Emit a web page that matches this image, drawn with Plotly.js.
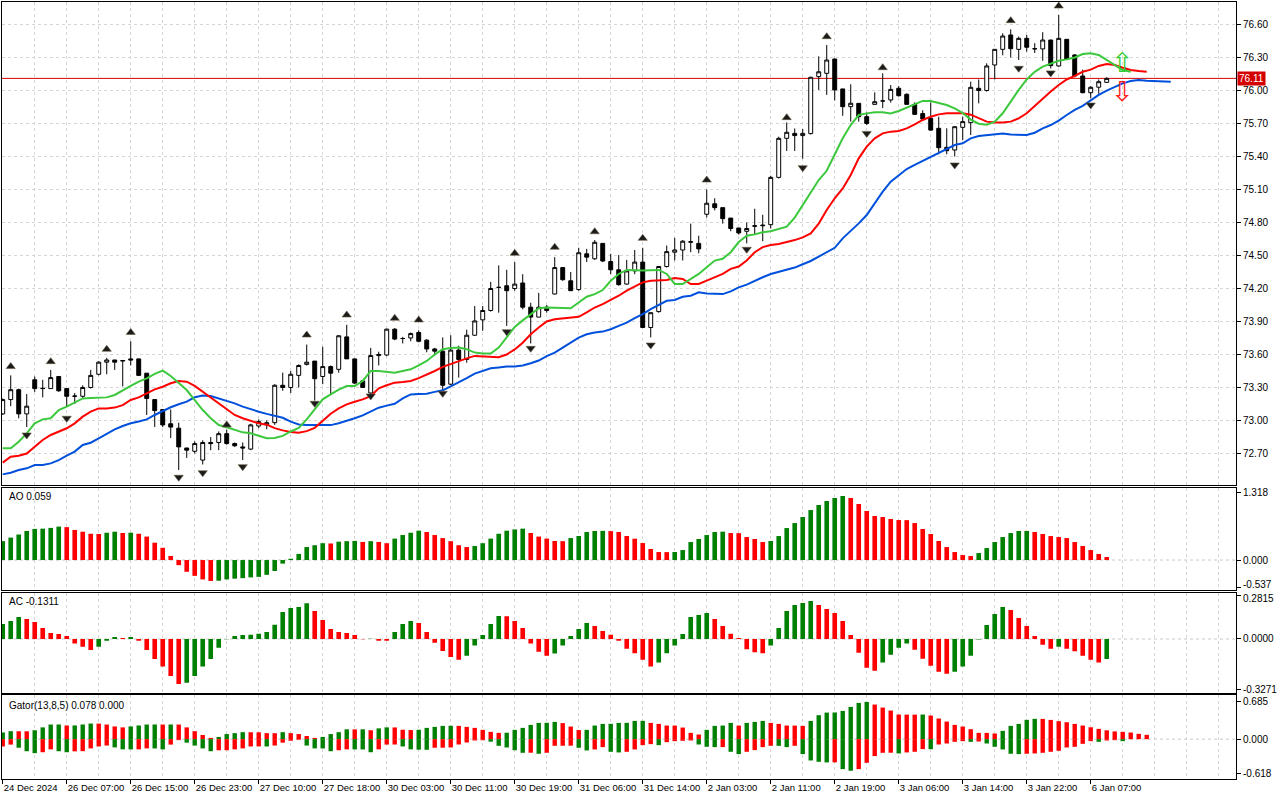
<!DOCTYPE html>
<html>
<head>
<meta charset="utf-8">
<script src="https://cdn.plot.ly/plotly-3.0.1.min.js"></script>
<style>
html,body{margin:0;padding:0;background:#ffffff;}
#chart{width:1280px;height:800px;}
</style>
</head>
<body>
<div id="chart"></div>
<script>
// ---------- hourly candles (index 0 = 24 Dec 2024) ----------
const openP = [
73.06,73.19,73.28,73.06,73.37,73.29,73.29,73.40,73.29,73.22,
73.22,73.30,73.42,73.53,73.55,73.54,73.56,73.56,73.43,73.19,
73.10,72.97,72.93,72.75,72.72,72.64,72.80,72.80,72.88,72.79,
72.76,72.74,72.95,72.96,72.98,73.32,73.30,73.41,73.51,73.54,
73.40,73.49,73.465,73.76,73.56,73.36,73.25,73.59,73.595,73.83,
73.745,73.75,73.80,73.73,73.65,73.63,73.33,73.64,73.555,73.775,
73.915,74.00,74.21,74.225,74.20,74.25,74.03,73.94,74.03,74.15,
74.39,74.27,74.19,74.515,74.47,74.61,74.445,74.37,74.24,74.36,
74.44,73.845,73.99,74.40,74.53,74.55,74.62,74.61,74.875,74.97,
74.935,74.84,74.75,74.72,74.765,74.77,74.78,75.21,75.565,75.61,
75.59,75.608,76.126,76.156,76.286,76.014,75.853,75.883,75.762,75.874,
75.905,75.914,76.02,75.965,75.874,75.79,75.747,75.656,75.483,75.459,
75.665,75.708,76.02,76.00,76.232,76.374,76.505,76.374,76.474,76.378,
76.378,76.459,76.223,76.465,76.323,76.132,75.98,76.03,76.074];
const highP = [
73.20,73.41,73.29,73.24,73.40,73.37,73.46,73.40,73.29,73.25,
73.32,73.46,73.54,73.57,73.55,73.55,73.72,73.56,73.43,73.19,
73.10,73.10,72.98,72.75,72.81,72.82,72.85,72.90,72.915,72.80,
72.80,72.97,73.01,73.00,73.33,73.435,73.45,73.51,73.69,73.54,
73.67,73.50,73.775,73.87,73.56,73.365,73.66,73.625,73.835,73.84,
73.76,73.80,73.82,73.74,73.66,73.755,73.775,73.68,73.825,74.04,
74.04,74.26,74.41,74.37,74.44,74.33,74.07,74.16,74.05,74.485,
74.39,74.35,74.57,74.56,74.64,74.61,74.515,74.505,74.46,74.55,
74.57,73.98,74.40,74.59,74.66,74.64,74.79,74.68,75.10,75.02,
74.935,74.84,74.75,74.80,74.925,74.87,75.225,75.58,75.71,75.655,
75.65,76.125,76.31,76.414,76.29,76.015,76.056,75.885,75.80,75.983,
76.156,76.05,76.04,75.974,75.892,75.82,75.892,75.762,75.656,75.671,
75.762,76.08,76.10,76.247,76.374,76.52,76.556,76.49,76.505,76.43,
76.53,76.46,76.687,76.465,76.33,76.19,76.04,76.10,76.12];
const lowP = [
73.05,73.13,73.02,72.94,73.26,73.21,73.29,73.26,73.13,73.15,
73.20,73.29,73.41,73.42,73.46,73.31,73.50,73.41,73.05,72.94,
72.94,72.84,72.55,72.66,72.70,72.60,72.73,72.73,72.78,72.76,
72.64,72.73,72.93,72.92,72.96,73.27,73.25,73.30,73.50,73.18,
73.33,73.24,73.435,73.56,73.33,73.30,73.22,73.50,73.585,73.73,
73.70,73.72,73.71,73.62,73.59,73.27,73.32,73.39,73.525,73.77,
73.815,73.99,73.98,73.86,74.18,74.01,73.70,73.94,73.98,74.145,
74.27,74.18,74.18,74.44,74.46,74.44,74.33,74.225,74.235,74.33,
73.84,73.755,73.98,74.39,74.455,74.455,74.53,74.52,74.845,74.91,
74.79,74.72,74.69,74.61,74.69,74.63,74.745,75.20,75.45,75.45,
75.38,75.60,76.005,75.96,75.91,75.77,75.717,75.717,75.686,75.868,
75.84,75.89,75.944,75.868,75.783,75.732,75.632,75.42,75.42,75.40,
75.55,75.595,75.883,75.99,76.10,76.32,76.30,76.277,76.353,76.34,
76.27,76.20,76.215,76.277,76.12,75.974,75.93,75.97,76.07];
const closeP = [
73.19,73.28,73.06,73.13,73.29,73.292,73.39,73.27,73.22,73.222,
73.30,73.41,73.53,73.55,73.53,73.545,73.55,73.41,73.20,73.09,
72.96,72.94,72.76,72.73,72.79,72.80,72.79,72.88,72.79,72.77,
72.75,72.96,72.99,72.98,73.32,73.30,73.42,73.50,73.53,73.38,
73.49,73.43,73.77,73.56,73.34,73.30,73.59,73.60,73.83,73.74,
73.745,73.79,73.72,73.65,73.63,73.32,73.64,73.555,73.775,73.905,
74.00,74.20,74.21,74.18,74.24,74.03,73.94,74.03,74.00,74.39,
74.28,74.18,74.525,74.485,74.62,74.45,74.37,74.235,74.36,74.44,
73.845,73.98,74.40,74.535,74.55,74.63,74.625,74.56,74.975,74.935,
74.835,74.745,74.705,74.745,74.77,74.775,75.21,75.565,75.62,75.59,
75.61,76.12,76.17,76.277,76.005,75.853,75.884,75.762,75.70,75.898,
75.905,76.01,75.953,75.874,75.783,75.74,75.64,75.48,75.453,75.671,
75.717,76.029,76.00,76.223,76.374,76.495,76.38,76.474,76.393,76.38,
76.459,76.226,76.474,76.283,76.132,75.98,76.029,76.08,76.11];

// ---------- Alligator lines (as drawn, incl. forward shift) ----------
const jawLine = [
72.51,72.525,72.55,72.565,72.595,72.595,72.61,72.64,72.68,72.717,
72.777,72.798,72.838,72.883,72.92,72.95,72.974,72.99,73.01,73.05,
73.086,73.12,73.147,73.171,73.211,73.226,73.223,73.2,73.18,73.156,
73.126,73.10,73.08,73.06,73.04,73.025,72.99,72.964,72.96,72.958,
72.958,72.958,72.975,72.994,73.02,73.046,73.08,73.116,73.135,73.152,
73.2,73.237,73.24,73.243,73.26,73.274,73.31,73.344,73.385,73.426,
73.45,73.474,73.482,73.49,73.49,73.50,73.52,73.545,73.585,73.616,
73.662,73.707,73.753,73.784,73.80,73.808,73.829,73.86,73.89,73.93,
73.966,74.012,74.052,74.088,74.095,74.125,74.134,74.165,74.155,74.149,
74.149,74.174,74.21,74.235,74.271,74.302,74.332,74.35,74.37,74.39,
74.42,74.45,74.49,74.53,74.57,74.656,74.72,74.792,74.868,74.974,
75.08,75.171,75.232,75.286,75.323,75.359,75.398,75.438,75.474,75.504,
75.52,75.565,75.586,75.595,75.60,75.61,75.60,75.595,75.595,75.616,
75.656,75.686,75.726,75.777,75.823,75.86,75.914,75.96,75.999,76.029,
76.065,76.086,76.095,76.089,76.086,76.08,76.08];
const teethLine = [
72.617,72.671,72.68,72.70,72.762,72.823,72.868,72.898,72.929,72.974,
73.035,73.08,73.11,73.11,73.117,73.14,73.186,73.21,73.247,73.283,
73.307,73.338,73.359,73.353,73.314,73.262,73.211,73.162,73.11,73.05,
73.02,73.0,72.974,72.962,72.93,72.91,72.895,72.888,72.903,72.933,
73.0,73.061,73.11,73.146,73.17,73.192,73.222,73.292,73.32,73.344,
73.35,73.359,73.385,73.414,73.45,73.487,73.515,73.541,73.565,73.587,
73.582,73.578,73.575,73.60,73.646,73.707,73.784,73.845,73.90,73.921,
73.93,73.936,73.942,73.982,74.027,74.058,74.095,74.134,74.18,74.216,
74.256,74.271,74.271,74.277,74.296,74.287,74.241,74.241,74.271,74.302,
74.332,74.378,74.40,74.454,74.53,74.576,74.595,74.605,74.62,74.64,
74.665,74.70,74.79,74.914,75.02,75.11,75.232,75.383,75.49,75.565,
75.61,75.626,75.632,75.656,75.692,75.732,75.762,75.783,75.792,75.792,
75.792,75.78,75.75,75.717,75.708,75.708,75.717,75.747,75.793,75.86,
75.929,75.99,76.05,76.10,76.132,76.17,76.19,76.223,76.24,76.232,
76.207,76.186,76.177,76.17];
const lipsLine = [
72.747,72.747,72.807,72.883,72.974,73.01,73.02,73.095,73.126,73.165,
73.20,73.205,73.21,73.21,73.232,73.277,73.314,73.353,73.383,73.423,
73.453,73.405,73.344,73.277,73.186,73.095,73.02,72.959,72.938,72.914,
72.892,72.883,72.859,72.838,72.84,72.86,72.90,72.933,73.01,73.10,
73.192,73.237,73.28,73.313,73.313,73.359,73.45,73.45,73.44,73.435,
73.45,73.465,73.50,73.541,73.60,73.648,73.66,73.663,73.648,73.617,
73.61,73.608,73.663,73.754,73.85,73.91,73.966,74.02,74.027,74.025,
74.02,74.02,74.073,74.125,74.149,74.186,74.27,74.332,74.369,74.363,
74.363,74.366,74.369,74.332,74.241,74.241,74.287,74.332,74.393,74.454,
74.47,74.53,74.622,74.68,74.692,74.712,74.72,74.74,74.762,74.844,
74.96,75.08,75.186,75.27,75.42,75.565,75.686,75.777,75.792,75.802,
75.802,75.792,75.814,75.844,75.874,75.905,75.905,75.883,75.868,75.838,
75.795,75.735,75.698,75.688,75.717,75.793,75.90,76.005,76.10,76.17,
76.217,76.247,76.27,76.283,76.30,76.332,76.338,76.323,76.277,76.226,
76.186,76.17];

// ---------- fractals (arrow positions) ----------
const fracUpIdx = [1,6,13,16,28,38,43,49,52,64,69,74,80,88,98,103,110,126,132];
const fracUpPrice = [73.49,73.535,73.647,73.80,72.96,73.777,73.959,73.929,73.914,74.52,74.575,74.716,74.656,75.186,75.753,76.489,76.207,76.635,76.768];
const fracDnIdx = [3,8,22,25,30,39,46,55,63,66,81,93,100,108,119,127,131,136];
const fracDnPrice = [72.868,73.02,72.484,72.525,72.58,73.156,73.223,73.247,73.807,73.656,73.686,74.556,75.298,75.61,75.323,76.202,76.16,75.868];

// ---------- signal arrows ----------
const signalIdx = [140,140];
const signalPrice = [76.255,75.995];
const signalGlyph = ['\u21E7','\u21E9'];

// ---------- Awesome Oscillator ----------
const aoValues = [
0.37,0.44,0.50,0.57,0.61,0.615,0.63,0.655,0.645,0.59,
0.555,0.515,0.51,0.535,0.555,0.53,0.535,0.515,0.46,0.34,
0.24,0.08,-0.10,-0.23,-0.31,-0.38,-0.41,-0.405,-0.38,-0.365,
-0.355,-0.34,-0.33,-0.29,-0.215,-0.07,0.025,0.12,0.255,0.29,
0.33,0.325,0.36,0.37,0.375,0.355,0.37,0.355,0.33,0.42,
0.49,0.535,0.575,0.55,0.49,0.43,0.37,0.29,0.255,0.275,
0.33,0.42,0.515,0.575,0.60,0.615,0.53,0.46,0.42,0.373,
0.37,0.431,0.471,0.549,0.569,0.572,0.567,0.549,0.471,0.418,
0.333,0.216,0.157,0.155,0.158,0.196,0.353,0.412,0.49,0.549,
0.556,0.529,0.527,0.451,0.412,0.353,0.373,0.47,0.627,0.725,
0.843,0.98,1.078,1.157,1.216,1.255,1.216,1.098,0.961,0.863,
0.843,0.804,0.784,0.782,0.725,0.608,0.51,0.373,0.255,0.157,
0.098,0.078,0.137,0.235,0.353,0.451,0.529,0.569,0.57,0.549,
0.51,0.47,0.451,0.431,0.353,0.275,0.196,0.118,0.059];

// ---------- Accelerator Oscillator ----------
const acValues = [
0.098,0.117,0.143,0.13,0.111,0.072,0.039,0.033,0.02,-0.03,
-0.05,-0.072,-0.05,-0.011,0.013,0.0065,0.013,-0.011,-0.072,-0.13,
-0.18,-0.241,-0.293,-0.285,-0.241,-0.18,-0.13,-0.057,-0.002,0.02,
0.026,0.027,0.035,0.046,0.093,0.176,0.202,0.209,0.233,0.183,
0.124,0.065,0.046,0.039,0.026,-0.002,0.001,-0.011,-0.012,0.046,
0.098,0.117,0.104,0.046,-0.024,-0.078,-0.117,-0.135,-0.109,-0.043,
0.026,0.098,0.15,0.149,0.117,0.072,-0.03,-0.083,-0.109,-0.094,
-0.043,0.02,0.065,0.104,0.085,0.052,0.028,-0.011,-0.063,-0.093,
-0.135,-0.18,-0.154,-0.093,-0.043,0.033,0.143,0.157,0.17,0.13,
0.085,0.035,0.0065,-0.067,-0.087,-0.093,-0.043,0.072,0.183,0.222,
0.235,0.248,0.222,0.196,0.17,0.117,0.026,-0.089,-0.187,-0.207,
-0.154,-0.102,-0.057,-0.03,-0.07,-0.128,-0.174,-0.213,-0.226,-0.213,
-0.18,-0.109,-0.003,0.091,0.163,0.209,0.189,0.137,0.085,0.02,
-0.037,-0.063,-0.05,-0.063,-0.08,-0.109,-0.135,-0.154,-0.1311];

// ---------- Gator Oscillator (upper |jaw-teeth|, lower |teeth-lips|) ----------
const gatorUpper = [
0.121,0.144,0.143,0.142,0.161,0.213,0.264,0.265,0.247,0.248,
0.265,0.282,0.281,0.264,0.23,0.213,0.23,0.247,0.264,0.265,
0.264,0.265,0.264,0.213,0.144,0.075,0.023,0.04,0.092,0.109,
0.126,0.125,0.124,0.109,0.108,0.126,0.109,0.092,0.057,0.023,
0.04,0.092,0.126,0.178,0.177,0.178,0.161,0.195,0.213,0.212,
0.17,0.165,0.17,0.204,0.222,0.24,0.242,0.24,0.222,0.204,
0.168,0.132,0.114,0.116,0.168,0.204,0.258,0.294,0.295,0.312,
0.29,0.228,0.165,0.168,0.246,0.276,0.277,0.294,0.295,0.33,
0.331,0.294,0.276,0.246,0.245,0.21,0.114,0.084,0.168,0.24,
0.246,0.294,0.245,0.294,0.312,0.33,0.294,0.276,0.246,0.245,
0.24,0.33,0.433,0.48,0.482,0.51,0.583,0.655,0.673,0.625,
0.571,0.517,0.445,0.444,0.443,0.445,0.427,0.373,0.318,0.258,
0.228,0.18,0.114,0.113,0.102,0.15,0.24,0.276,0.349,0.367,
0.366,0.348,0.325,0.306,0.276,0.246,0.215,0.186,0.16,0.14,
0.132,0.12,0.096,0.078];
const gatorLower = [
0.132,0.098,0.155,0.218,0.253,0.236,0.184,0.218,0.236,0.22,
0.217,0.167,0.132,0.115,0.149,0.184,0.185,0.184,0.167,0.168,
0.184,0.098,0.017,0.063,0.115,0.167,0.218,0.201,0.2,0.184,
0.167,0.132,0.131,0.132,0.115,0.063,0.029,0.011,0.115,0.167,
0.168,0.218,0.2,0.184,0.185,0.186,0.236,0.184,0.098,0.097,
0.132,0.184,0.19,0.192,0.155,0.154,0.15,0.096,0.06,0.024,
0.02,0.045,0.12,0.15,0.2,0.246,0.245,0.264,0.246,0.12,
0.119,0.118,0.156,0.204,0.186,0.144,0.228,0.24,0.228,0.186,
0.108,0.09,0.108,0.054,0.036,0.03,0.024,0.096,0.138,0.144,
0.143,0.228,0.27,0.228,0.198,0.144,0.12,0.121,0.144,0.12,
0.27,0.385,0.409,0.42,0.419,0.541,0.571,0.541,0.427,0.306,
0.246,0.245,0.258,0.24,0.228,0.18,0.181,0.096,0.078,0.048,
0.036,0.048,0.042,0.078,0.138,0.186,0.264,0.27,0.264,0.258,
0.246,0.228,0.21,0.15,0.138,0.084,0.036,0.048,0.024,0.018,
0.036,0.0];

// ---------- axis ticks ----------
const priceTicks = [72.70,73.00,73.30,73.60,73.90,74.20,74.50,74.80,75.10,75.40,75.70,76.00,76.30,76.60];
const aoTicks = [1.318,0,-0.537];
const aoTickText = ['1.318','0.000','-0.537'];
const acTicks = [0.2815,0,-0.3271];
const acTickText = ['0.2815','0.0000','-0.3271'];
const gatorTicks = [0.685,0,-0.618];
const gatorTickText = ['0.685','0.000','-0.618'];
const timeTickIdx = [0,8,16,24,32,40,48,56,64,72,80,88,96,104,112,120,128,136];
const timeTickText = ['24 Dec 2024','26 Dec 07:00','26 Dec 15:00','26 Dec 23:00','27 Dec 10:00','27 Dec 18:00',
  '30 Dec 03:00','30 Dec 11:00','30 Dec 19:00','31 Dec 06:00','31 Dec 14:00','2 Jan 03:00',
  '2 Jan 11:00','2 Jan 19:00','3 Jan 06:00','3 Jan 14:00','3 Jan 22:00','6 Jan 07:00'];

// ---------- build ----------
const GREEN = '#008000', RED = '#ff0000';
const FONT = 'Liberation Sans, Arial, sans-serif';
const idx = n => Array.from({length:n}, (_, i) => i);
function trendColors(vals, first){
  return vals.map((v,i) => i === 0 ? first : (v > vals[i-1] ? GREEN : RED));
}

const traces = [];
traces.push({
  type:'candlestick', x: idx(openP.length), open: openP, high: highP, low: lowP, close: closeP,
  xaxis:'x', yaxis:'y',
  increasing:{line:{color:'#000000', width:1}, fillcolor:'#ffffff'},
  decreasing:{line:{color:'#000000', width:1}, fillcolor:'#000000'},
  whiskerwidth:0, showlegend:false, hoverinfo:'skip'
});
traces.push({type:'scatter', mode:'lines', x: idx(jawLine.length), y: jawLine, xaxis:'x', yaxis:'y',
  line:{color:'#0050dc', width:2}, showlegend:false, hoverinfo:'skip'});
traces.push({type:'scatter', mode:'lines', x: idx(teethLine.length), y: teethLine, xaxis:'x', yaxis:'y',
  line:{color:'#ff0000', width:2}, showlegend:false, hoverinfo:'skip'});
traces.push({type:'scatter', mode:'lines', x: idx(lipsLine.length), y: lipsLine, xaxis:'x', yaxis:'y',
  line:{color:'#3cc83c', width:2}, showlegend:false, hoverinfo:'skip'});
traces.push({type:'scatter', mode:'markers', x: fracUpIdx, y: fracUpPrice, xaxis:'x', yaxis:'y',
  marker:{symbol:'triangle-up', size:8, color:'#1a1a1a', line:{width:0.6, color:'#6a5a40'}}, showlegend:false, hoverinfo:'skip'});
traces.push({type:'scatter', mode:'markers', x: fracDnIdx, y: fracDnPrice, xaxis:'x', yaxis:'y',
  marker:{symbol:'triangle-down', size:8, color:'#1a1a1a', line:{width:0.6, color:'#6a5a40'}}, showlegend:false, hoverinfo:'skip'});

traces.push({type:'bar', x: idx(aoValues.length), y: aoValues, xaxis:'x2', yaxis:'y2', width:0.58,
  marker:{color: trendColors(aoValues, GREEN), line:{width:0}}, showlegend:false, hoverinfo:'skip'});
traces.push({type:'bar', x: idx(acValues.length), y: acValues, xaxis:'x3', yaxis:'y3', width:0.58,
  marker:{color: trendColors(acValues, GREEN), line:{width:0}}, showlegend:false, hoverinfo:'skip'});
traces.push({type:'bar', x: idx(gatorUpper.length), y: gatorUpper, xaxis:'x4', yaxis:'y4', width:0.55,
  marker:{color: trendColors(gatorUpper, GREEN), line:{width:0}}, showlegend:false, hoverinfo:'skip'});
traces.push({type:'bar', x: idx(gatorLower.length), y: gatorLower.map(v => -v), xaxis:'x4', yaxis:'y4', width:0.55,
  marker:{color: trendColors(gatorLower, RED), line:{width:0}}, showlegend:false, hoverinfo:'skip'});

const GRID = '#d6d6d6', DASH = '3px,3px';
const xRange = [-0.09, 154.16];
function xAxis(anchor, labels){
  const a = {
    anchor: anchor, domain:[0,1], range: xRange, fixedrange:true, automargin:false,
    tickmode:'array', tickvals: timeTickIdx, ticktext: timeTickText, tickangle:0,
    showline:true, mirror:true, linecolor:'#000000', linewidth:1,
    showgrid:true, gridcolor: GRID, griddash: DASH, gridwidth:1, zeroline:false,
    minor:{tickmode:'linear', tick0:0, dtick:4, showgrid:true, gridcolor: GRID, griddash: DASH, ticks:''},
    rangeslider:{visible:false},
    showticklabels: labels, ticks: labels ? 'outside' : '', ticklen:4, tickcolor:'#000000'
  };
  if (labels){
    a.ticklabelposition = 'outside right';
    a.tickfont = {size:9.5, color:'#000000', family: FONT};
  }
  return a;
}
function yAxis(domain, range, tv, tt, grid){
  return {
    domain: domain, range: range, side:'right', fixedrange:true, automargin:false,
    tickmode:'array', tickvals: tv, ticktext: tt,
    ticks:'outside', ticklen:4, tickcolor:'#000000',
    showline:true, mirror:true, linecolor:'#000000', linewidth:1,
    showgrid: grid, gridcolor: GRID, griddash: DASH, zeroline:false,
    tickfont:{size:10, color:'#000000', family: FONT}
  };
}

const lastClose = closeP[closeP.length-1];
const annotFont = {size:10, color:'#000000', family: FONT};
const tickAnnFont = {size:10, color:'#000000', family: FONT};

// AO bottom label and AC top label are drawn as annotations, nudged inside their panels
const aoAxis = yAxis([0.2432,0.3749], [-0.588,1.418], aoTicks, [aoTickText[0], aoTickText[1], ''], false);
const acAxis = yAxis([0.1111,0.2398], [-0.350,0.302], acTicks, ['', acTickText[1], acTickText[2]], false);

const layout = {
  width:1280, height:800,
  margin:{l:2, r:44, t:2, b:21, pad:0},
  paper_bgcolor:'#ffffff', plot_bgcolor:'#ffffff',
  font:{family: FONT, size:10, color:'#000000'},
  showlegend:false, barmode:'overlay', hovermode:false,
  xaxis: xAxis('y', false),
  xaxis2: Object.assign(xAxis('y2', false), {matches:'x'}),
  xaxis3: Object.assign(xAxis('y3', false), {matches:'x'}),
  xaxis4: Object.assign(xAxis('y4', true), {matches:'x'}),
  yaxis: yAxis([0.3784,1], [72.4136,76.8045], priceTicks, priceTicks.map(v => v.toFixed(2)), true),
  yaxis2: aoAxis,
  yaxis3: acAxis,
  yaxis4: yAxis([0,0.1081], [-0.72,0.798], gatorTicks, gatorTickText, false),
  shapes:[
    {type:'line', xref:'paper', x0:0, x1:1, yref:'y', y0:lastClose, y1:lastClose, line:{color:'#d40000', width:1}, layer:'below'},
    {type:'line', xref:'paper', x0:0, x1:1, yref:'y2', y0:0, y1:0, line:{color:'#c8c8c8', width:1, dash:DASH}, layer:'below'},
    {type:'line', xref:'paper', x0:0, x1:1, yref:'y3', y0:0, y1:0, line:{color:'#c8c8c8', width:1, dash:DASH}, layer:'below'},
    {type:'line', xref:'paper', x0:0, x1:1, yref:'y4', y0:0, y1:0, line:{color:'#c8c8c8', width:1, dash:DASH}, layer:'below'}
  ],
  annotations:[
    {xref:'paper', x:1, xanchor:'left', xshift:1, yref:'y', y:lastClose, yanchor:'middle',
     text: lastClose.toFixed(2), showarrow:false, bgcolor:'#d40000', borderpad:1,
     font:{size:10, color:'#ffffff', family: FONT}},
    {xref:'paper', x:1, xanchor:'left', xshift:5, yref:'y2', y:aoTicks[2], yanchor:'middle', yshift:3,
     text: aoTickText[2], showarrow:false, font:tickAnnFont},
    {xref:'paper', x:1, xanchor:'left', xshift:5, yref:'y3', y:acTicks[0], yanchor:'middle', yshift:-3,
     text: acTickText[0], showarrow:false, font:tickAnnFont},
    {xref:'paper', x:0, xanchor:'left', xshift:5, yref:'y2 domain', y:1, yanchor:'middle', yshift:-9,
     text:'AO ' + aoValues[aoValues.length-1].toFixed(3), showarrow:false, font:annotFont},
    {xref:'paper', x:0, xanchor:'left', xshift:5, yref:'y3 domain', y:1, yanchor:'middle', yshift:-9,
     text:'AC ' + acValues[acValues.length-1].toFixed(4), showarrow:false, font:annotFont},
    {xref:'paper', x:0, xanchor:'left', xshift:5, yref:'y4 domain', y:1, yanchor:'middle', yshift:-10,
     text:'Gator(13,8,5) ' + gatorUpper[gatorUpper.length-1].toFixed(3) + ' ' + gatorLower[gatorLower.length-1].toFixed(3),
     showarrow:false, font:annotFont},
    {xref:'x', x:signalIdx[0], yref:'y', y:signalPrice[0], text:signalGlyph[0], showarrow:false,
     font:{size:27, color:'#32cd32', family:'DejaVu Sans'}},
    {xref:'x', x:signalIdx[1], yref:'y', y:signalPrice[1], text:signalGlyph[1], showarrow:false,
     font:{size:27, color:'#ff2020', family:'DejaVu Sans'}}
  ]
};

Plotly.newPlot('chart', traces, layout, {staticPlot:true, displayModeBar:false});
</script>
</body>
</html>
